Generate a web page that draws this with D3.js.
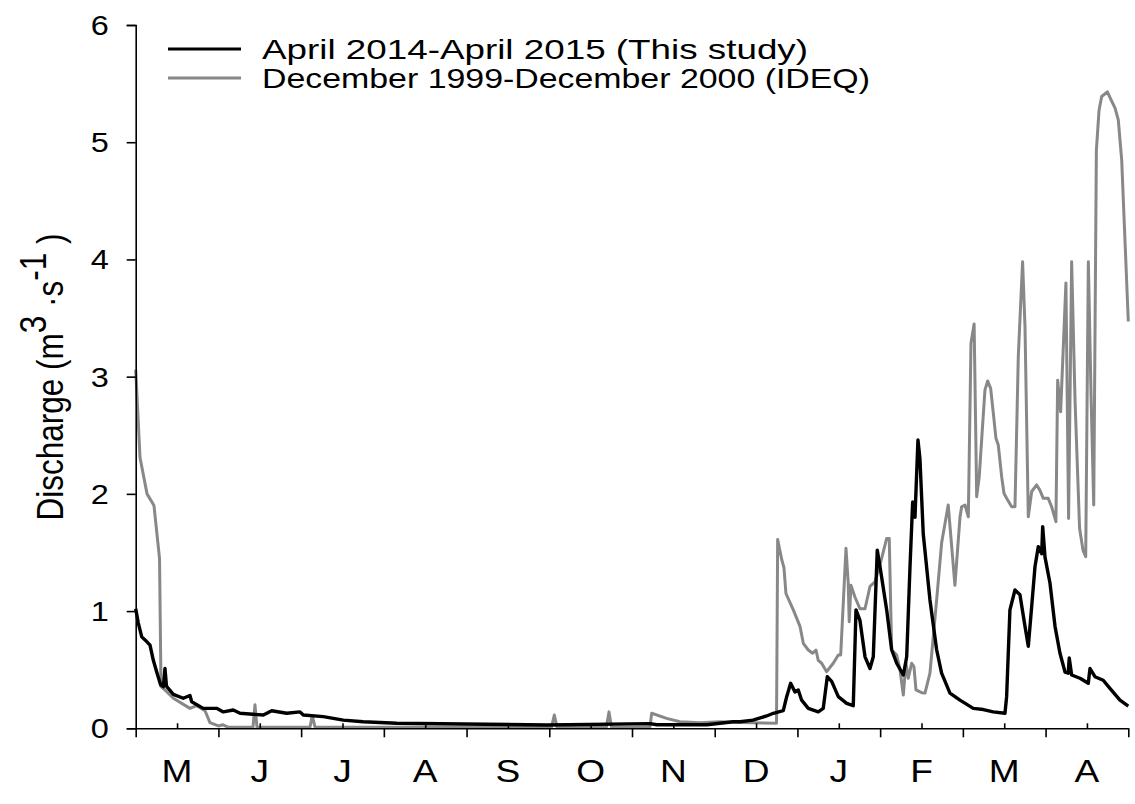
<!DOCTYPE html>
<html>
<head>
<meta charset="utf-8">
<script src="https://cdn.jsdelivr.net/npm/d3@7"></script>
<style>
  html, body { margin: 0; padding: 0; background: #fff; }
  svg text { font-family: "Liberation Sans", Arial, Helvetica, sans-serif; fill: #000; }
</style>
</head>
<body>
<svg id="chart" width="1135" height="804"></svg>
<script>
// Month labels along the x axis (one per monthly interval)
const monthLabels = ["M", "J", "J", "A", "S", "O", "N", "D", "J", "F", "M", "A"];
const yTicks = [0, 1, 2, 3, 4, 5, 6];

// Series: position in months from the start of the record, discharge in m3/s
const studyMonths = [0.00, 0.031, 0.073, 0.133, 0.173, 0.213, 0.254, 0.302, 0.334, 0.354, 0.372, 0.394, 0.455, 0.575, 0.656, 0.677, 0.817, 0.979, 1.059, 1.180, 1.261, 1.543, 1.644, 1.825, 1.986, 2.026, 2.268, 2.510, 2.751, 3.155, 3.960, 4.969, 6.217, 6.300, 6.906, 7.221, 7.306, 7.462, 7.628, 7.708, 7.829, 7.870, 7.918, 7.970, 8.010, 8.051, 8.131, 8.252, 8.312, 8.361, 8.414, 8.494, 8.595, 8.675, 8.708, 8.756, 8.817, 8.877, 8.917, 8.965, 8.998, 9.079, 9.139, 9.200, 9.280, 9.321, 9.361, 9.393, 9.421, 9.457, 9.481, 9.521, 9.602, 9.683, 9.743, 9.844, 9.965, 10.126, 10.247, 10.367, 10.509, 10.529, 10.569, 10.630, 10.690, 10.751, 10.791, 10.832, 10.872, 10.912, 10.953, 10.965, 10.993, 11.053, 11.114, 11.174, 11.235, 11.274, 11.286, 11.315, 11.416, 11.516, 11.537, 11.597, 11.697, 11.778, 11.899, 12.0];
const studyFlow = [1.02, 0.90, 0.78, 0.74, 0.71, 0.58, 0.48, 0.37, 0.355, 0.51, 0.36, 0.34, 0.29, 0.256, 0.28, 0.227, 0.17, 0.17, 0.14, 0.156, 0.128, 0.113, 0.15, 0.128, 0.14, 0.113, 0.10, 0.07, 0.056, 0.043, 0.037, 0.028, 0.04, 0.03, 0.03, 0.056, 0.056, 0.07, 0.105, 0.128, 0.15, 0.27, 0.384, 0.31, 0.327, 0.24, 0.17, 0.14, 0.17, 0.44, 0.40, 0.27, 0.213, 0.193, 1.01, 0.92, 0.61, 0.51, 0.61, 1.52, 1.38, 1.01, 0.67, 0.555, 0.455, 0.61, 1.38, 1.93, 1.80, 2.46, 2.30, 1.66, 1.095, 0.67, 0.47, 0.30, 0.24, 0.17, 0.16, 0.14, 0.128, 0.27, 1.01, 1.18, 1.14, 0.87, 0.70, 1.04, 1.38, 1.55, 1.49, 1.72, 1.46, 1.24, 0.87, 0.64, 0.48, 0.47, 0.60, 0.455, 0.427, 0.384, 0.51, 0.44, 0.41, 0.34, 0.24, 0.19];

const ideqMonths = [0.00, 0.052, 0.137, 0.221, 0.288, 0.306, 0.354, 0.455, 0.656, 0.737, 0.838, 0.898, 0.999, 1.055, 1.116, 1.418, 1.442, 1.466, 2.107, 2.135, 2.168, 5.027, 5.061, 5.093, 5.690, 5.722, 5.752, 6.217, 6.238, 6.419, 6.580, 6.822, 7.064, 7.306, 7.747, 7.761, 7.810, 7.837, 7.861, 7.950, 8.031, 8.071, 8.131, 8.184, 8.224, 8.252, 8.293, 8.353, 8.433, 8.494, 8.523, 8.587, 8.614, 8.626, 8.647, 8.695, 8.756, 8.817, 8.877, 8.938, 9.018, 9.079, 9.110, 9.139, 9.200, 9.240, 9.280, 9.312, 9.340, 9.381, 9.409, 9.433, 9.502, 9.542, 9.602, 9.683, 9.743, 9.823, 9.904, 9.965, 9.985, 10.026, 10.066, 10.098, 10.136, 10.167, 10.198, 10.227, 10.267, 10.300, 10.336, 10.368, 10.400, 10.428, 10.469, 10.497, 10.529, 10.590, 10.630, 10.670, 10.722, 10.751, 10.791, 10.832, 10.892, 10.932, 10.972, 11.032, 11.073, 11.125, 11.146, 11.182, 11.246, 11.278, 11.315, 11.356, 11.411, 11.452, 11.485, 11.517, 11.549, 11.582, 11.614, 11.646, 11.678, 11.747, 11.779, 11.840, 11.879, 11.920, 12.0];
const ideqFlow = [3.06, 2.31, 2.00, 1.90, 1.45, 0.355, 0.327, 0.256, 0.17, 0.193, 0.15, 0.048, 0.02, 0.03, 0.01, 0.01, 0.20, 0.01, 0.01, 0.107, 0.01, 0.01, 0.113, 0.01, 0.01, 0.14, 0.01, 0.01, 0.128, 0.085, 0.056, 0.048, 0.056, 0.05, 0.043, 1.61, 1.44, 1.37, 1.15, 1.01, 0.87, 0.725, 0.668, 0.64, 0.668, 0.58, 0.555, 0.483, 0.555, 0.625, 0.625, 1.535, 1.24, 0.91, 1.22, 1.12, 1.02, 1.02, 1.21, 1.25, 1.45, 1.62, 1.62, 0.67, 0.625, 0.50, 0.284, 0.555, 0.427, 0.555, 0.525, 0.327, 0.304, 0.30, 0.47, 1.095, 1.58, 1.905, 1.22, 1.80, 1.89, 1.905, 1.805, 3.285, 3.45, 1.976, 2.147, 2.46, 2.887, 2.963, 2.90, 2.69, 2.474, 2.417, 2.147, 2.005, 1.962, 1.89, 1.89, 3.17, 3.98, 3.43, 1.805, 2.02, 2.076, 2.03, 1.962, 1.962, 1.89, 1.763, 2.97, 2.70, 3.80, 1.79, 3.98, 2.80, 1.706, 1.52, 1.464, 3.98, 2.86, 1.905, 4.93, 5.27, 5.39, 5.43, 5.38, 5.29, 5.19, 4.85, 3.47];

const seriesNames = ["April 2014-April 2015 (This study)", "December 1999-December 2000 (IDEQ)"];
const seriesColors = ["#000000", "#888888"];

// The figure's lettering is set slightly wide
const stretch = 1.16;

const svg = d3.select("#chart");
const margin = { left: 135.7, right: 1135 - 1128.3, top: 25, bottom: 804 - 728.3 };
const x = d3.scaleLinear().domain([0, 12]).range([margin.left, 1135 - margin.right]);
const y = d3.scaleLinear().domain([0, 6]).range([804 - margin.bottom, margin.top]);

const line = d3.line().x(d => x(d[0])).y(d => y(d[1]));

// Data lines (grey underneath, black on top)
const ideq = d3.zip(ideqMonths, ideqFlow);
const study = d3.zip(studyMonths, studyFlow);
svg.append("path").datum(ideq)
  .attr("d", line).attr("fill", "none")
  .attr("stroke", seriesColors[1]).attr("stroke-width", 3).attr("stroke-linejoin", "round");
svg.append("path").datum(study)
  .attr("d", line).attr("fill", "none")
  .attr("stroke", seriesColors[0]).attr("stroke-width", 3.4).attr("stroke-linejoin", "round");

// Y axis
const yAxis = d3.axisLeft(y).tickValues(yTicks).tickSize(9).tickFormat("");
const gy = svg.append("g").attr("transform", `translate(${x(0)},0)`).call(yAxis);
gy.select(".domain").attr("stroke", "#000").attr("stroke-width", 1.6);
gy.selectAll(".tick line").attr("stroke", "#000").attr("stroke-width", 1.6);
svg.append("g").selectAll("text").data(yTicks).join("text")
  .attr("transform", d => `translate(${x(0) - 27},${y(d) + 10}) scale(${stretch},1)`)
  .attr("text-anchor", "end").attr("font-size", 28)
  .text(d => d);

// X axis: month boundaries tick downward, mid-month ticks point upward
const xAxis = d3.axisBottom(x).tickValues(d3.range(0, 13)).tickSize(9).tickSizeOuter(0).tickFormat("");
const gx = svg.append("g").attr("transform", `translate(0,${y(0)})`).call(xAxis);
gx.select(".domain").attr("stroke", "#000").attr("stroke-width", 1.6);
gx.selectAll(".tick line").attr("stroke", "#000").attr("stroke-width", 1.6);

const mids = d3.range(12).map(i => i + 0.5);
const xMinor = d3.axisTop(x).tickValues(mids).tickSize(5).tickSizeOuter(0).tickFormat("");
const gm = svg.append("g").attr("transform", `translate(0,${y(0)})`).call(xMinor);
gm.select(".domain").remove();
gm.selectAll(".tick line").attr("stroke", "#000").attr("stroke-width", 1.6);

svg.append("g").selectAll("text").data(mids).join("text")
  .attr("transform", d => `translate(${x(d)},782) scale(${stretch},1)`)
  .attr("text-anchor", "middle").attr("font-size", 32)
  .text((d, i) => monthLabels[i]);

// Y axis title with superscripts
const title = svg.append("text")
  .attr("transform", `translate(63,377) scale(${stretch},1) rotate(-90)`)
  .attr("text-anchor", "middle").attr("font-size", 31.5);
title.append("tspan").text("Discharge (m");
title.append("tspan").attr("dy", -15).text("3");
title.append("tspan").attr("dy", 15).text(" ·s");
title.append("tspan").attr("dy", -15).text("-1");
title.append("tspan").attr("dy", 15).text(" )");

// Legend
const legend = svg.append("g");
const legendWidths = [546, 608];
seriesNames.forEach((name, i) => {
  const ly = 49 + i * 29;
  legend.append("line").attr("x1", 168).attr("x2", 241).attr("y1", ly).attr("y2", ly)
    .attr("stroke", seriesColors[i]).attr("stroke-width", 3);
  legend.append("text").attr("x", 262).attr("y", ly + 10).attr("font-size", 28)
    .attr("textLength", legendWidths[i]).attr("lengthAdjust", "spacingAndGlyphs")
    .text(name);
});
</script>
</body>
</html>
